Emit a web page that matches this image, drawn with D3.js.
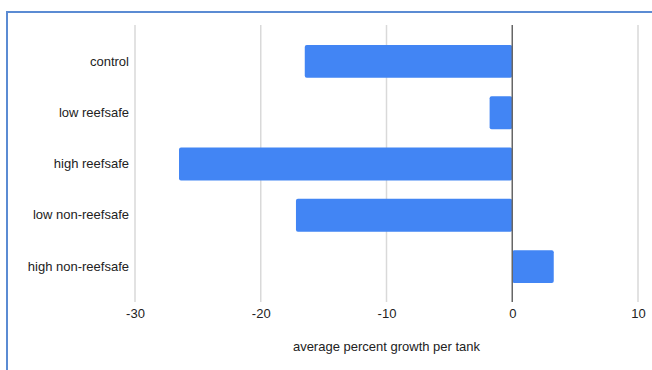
<!DOCTYPE html>
<html>
<head>
<meta charset="utf-8">
<script src="https://cdn.jsdelivr.net/npm/d3@7"></script>
<style>
  body { margin: 0; background: #fff; }
  svg { font-family: "Liberation Sans", Arial, sans-serif; }
</style>
</head>
<body>
<div id="chart"></div>
<script>
const categories = ["control", "low reefsafe", "high reefsafe", "low non-reefsafe", "high non-reefsafe"];
const growth = [-16.5, -1.8, -26.5, -17.2, 3.3];
const xTicks = [-30, -20, -10, 0, 10];

const W = 652, H = 370;
const svg = d3.select("#chart").append("svg")
  .attr("width", W)
  .attr("height", H);

// frame around the chart
svg.append("path")
  .attr("d", "M7," + H + "V12H" + W)
  .attr("fill", "none")
  .attr("stroke", "#5b8bd3")
  .attr("stroke-width", 2);

// scales
let x = d3.scaleLinear()
  .domain([-30, 10])
  .range([135, 638]);

let y = d3.scaleBand()
  .domain(categories)
  .range([35.8, 292.2])
  .paddingInner(0.36)
  .paddingOuter(0.18);

const gridTop = 25, gridBottom = 302;

// gridlines
svg.append("g")
  .selectAll("line")
  .data(xTicks.filter(d => d !== 0))
  .enter()
  .append("line")
  .attr("x1", d => x(d))
  .attr("x2", d => x(d))
  .attr("y1", gridTop)
  .attr("y2", gridBottom)
  .attr("stroke", "#d9d9d9")
  .attr("stroke-width", 1.5);

// bars
svg.append("g")
  .selectAll("rect")
  .data(categories)
  .enter()
  .append("rect")
  .attr("x", (d, i) => x(Math.min(0, growth[i])))
  .attr("y", d => y(d))
  .attr("width", (d, i) => Math.abs(x(growth[i]) - x(0)))
  .attr("height", y.bandwidth())
  .attr("rx", 2)
  .attr("fill", "#4285f4");

// zero baseline
svg.append("line")
  .attr("x1", x(0))
  .attr("x2", x(0))
  .attr("y1", gridTop)
  .attr("y2", gridBottom)
  .attr("stroke", "#666")
  .attr("stroke-width", 1.5);

// x tick labels
let xAxisCall = d3.axisBottom(x)
  .tickValues(xTicks)
  .tickSize(0)
  .tickPadding(0)
  .tickFormat(d => String(d));

let xAxis = svg.append("g")
  .attr("transform", "translate(0,309)")
  .call(xAxisCall);
xAxis.select(".domain").remove();
xAxis.selectAll("text")
  .attr("font-size", 13)
  .attr("fill", "#222")
  .attr("font-family", "Liberation Sans, Arial, sans-serif");

// category labels
let yAxisCall = d3.axisLeft(y)
  .tickSize(0)
  .tickPadding(0);

let yAxis = svg.append("g")
  .attr("transform", "translate(129,0)")
  .call(yAxisCall);
yAxis.select(".domain").remove();
yAxis.selectAll("text")
  .attr("font-size", 13)
  .attr("fill", "#222")
  .attr("font-family", "Liberation Sans, Arial, sans-serif");

// axis title, centred on the chart area
svg.append("text")
  .attr("x", (x.range()[0] + x.range()[1]) / 2)
  .attr("y", 351)
  .attr("text-anchor", "middle")
  .attr("font-size", 13)
  .attr("fill", "#222")
  .text("average percent growth per tank");
</script>
</body>
</html>
